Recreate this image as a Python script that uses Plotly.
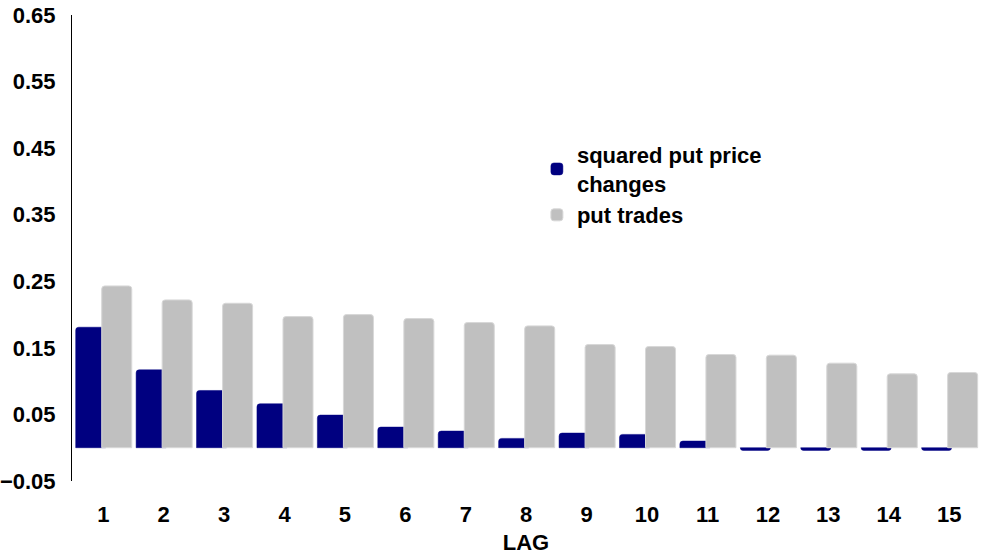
import plotly.graph_objects as go

lags = list(range(1, 16))
tick_labels = [str(l) for l in lags]
squared_put_price_changes = [0.181, 0.117, 0.086, 0.066, 0.049, 0.031, 0.025, 0.014,
                             0.022, 0.020, 0.010, -0.004, -0.004, -0.004, -0.004]
put_trades = [0.243, 0.222, 0.217, 0.197, 0.200, 0.194, 0.188, 0.183,
              0.155, 0.152, 0.140, 0.139, 0.127, 0.111, 0.113]

FONT = "Liberation Sans, Arial, sans-serif"

fig = go.Figure()
fig.add_trace(go.Bar(
    x=lags, y=squared_put_price_changes, name="squared put price<br>changes",
    marker=dict(color="#000080", line=dict(color="#000080", width=0.5)),
    width=0.497, offset=-0.457,
))
fig.add_trace(go.Bar(
    x=lags, y=put_trades, name="put trades",
    marker=dict(color="#c0c0c0", line=dict(color="#d8d8d8", width=1)),
    width=0.497, offset=-0.026,
))

fig.update_layout(
    width=981, height=557,
    margin=dict(l=72, r=1, t=15, b=76),
    paper_bgcolor="white", plot_bgcolor="white",
    barmode="overlay", barcornerradius=3,
    font=dict(family=FONT, size=21, color="black"),
    legend=dict(
        x=0.512, y=0.745, xanchor="left", yanchor="top",
        bgcolor="rgba(0,0,0,0)",
        font=dict(family=FONT, size=22, color="black", weight="bold"),
        itemwidth=30, tracegroupgap=5,
    ),
    showlegend=True,
)
fig.update_yaxes(
    range=[-0.05, 0.65], tick0=-0.05, dtick=0.1, tickformat=".2f",
    showline=True, linecolor="black", linewidth=1,
    showgrid=False, zeroline=False, ticks="",
    ticklabelstandoff=11,
    tickfont=dict(family=FONT, size=22, color="black", weight="bold"),
)
fig.update_xaxes(
    range=[0.482, 15.51], tickmode="array", tickvals=lags, ticktext=tick_labels,
    showline=False, showgrid=False, zeroline=False, ticks="",
    ticklabelstandoff=18,
    tickfont=dict(family=FONT, size=22, color="black", weight="bold"),
    title=dict(text="LAG", standoff=8,
               font=dict(family=FONT, size=22, color="black", weight="bold")),
)

fig.write_html("out.html")
